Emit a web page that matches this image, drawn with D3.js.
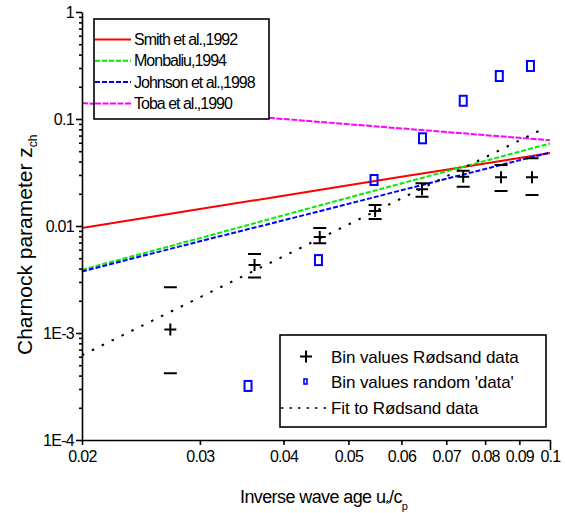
<!DOCTYPE html>
<html lang='en'>
<head>
	<meta charset='UTF-8'>
	<title>Charnock parameter</title>
	<style>
		body { margin: 0; background: #fff; }
		svg { display: block; font-family: 'Liberation Sans', Arial, sans-serif; }
	</style>
</head>
<body>

<svg></svg>

<script src='https://d3js.org/d3.v7.min.js'></script>
<script>
// curves at these x values
const curveX = [0.02, 0.03, 0.04, 0.05, 0.06, 0.07, 0.08, 0.09, 0.1]
const smith = [0.0096, 0.0144, 0.0192, 0.024, 0.0288, 0.0336, 0.0384, 0.0432, 0.048]
const monbaliu = [0.0039, 0.0077, 0.0126, 0.0184, 0.025, 0.0324, 0.0406, 0.0495, 0.059]
const johnson = [0.00376, 0.0072, 0.0113, 0.0161, 0.0216, 0.0276, 0.0341, 0.0411, 0.0486]
const toba = [0.141, 0.1155, 0.1, 0.0894, 0.0816, 0.0756, 0.0707, 0.0667, 0.0632]

// bin values Rødsand data, with lower / upper marks
const binX = [0.0271, 0.0362, 0.0453, 0.0548, 0.0644, 0.0742, 0.0845, 0.094]
const binY = [0.00108, 0.00432, 0.0079, 0.0138, 0.022, 0.0289, 0.0285, 0.0285]
const binLo = [0.00042, 0.00331, 0.0069, 0.0116, 0.0188, 0.0233, 0.0212, 0.0195]
const binHi = [0.00267, 0.00547, 0.0096, 0.0157, 0.0251, 0.0329, 0.0372, 0.0429]

// bin values random 'data'
const randX = [0.0354, 0.0451, 0.0546, 0.0645, 0.0742, 0.084, 0.0935]
const randY = [0.00032, 0.0048, 0.0269, 0.066, 0.148, 0.252, 0.313]

// fit to Rødsand data
const fitX = [0.02, 0.0976]
const fitY = [0.00062, 0.0807]

const xTicks = [0.02, 0.03, 0.04, 0.05, 0.06, 0.07, 0.08, 0.09, 0.1]
const xTickLabels = ['0.02', '0.03', '0.04', '0.05', '0.06', '0.07', '0.08', '0.09', '0.1']
const yTicks = [1e-4, 1e-3, 0.01, 0.1, 1]
const yTickLabels = ['1E-4', '1E-3', '0.01', '0.1', '1']

const width = 565
const height = 513

const svg = d3.select('svg')
	.attr('width', width)
	.attr('height', height)

const x = d3.scaleLog().domain([0.02, 0.1]).range([82, 550])
const y = d3.scaleLog().domain([1e-4, 1]).range([440, 12])

const series = [
	{ name: 'Smith et al.,1992', values: smith, color: '#ff0000', dash: null },
	{ name: 'Monbaliu,1994', values: monbaliu, color: '#00ee00', dash: '5,2' },
	{ name: 'Johnson et al.,1998', values: johnson, color: '#0000ff', dash: '5,2' },
	{ name: 'Toba et al.,1990', values: toba, color: '#ff00ff', dash: '6,1.5' }
]

const line = d3.line()
	.x(d => x(d[0]))
	.y(d => y(d[1]))

// curves
svg.append('g').selectAll('path')
	.data(series)
	.enter().append('path')
	.attr('fill', 'none')
	.attr('stroke', d => d.color)
	.attr('stroke-width', 2)
	.attr('stroke-dasharray', d => d.dash)
	.attr('d', d => line(curveX.map((v, i) => [v, d.values[i]])))

// fit line
svg.append('path')
	.attr('fill', 'none')
	.attr('stroke', '#000')
	.attr('stroke-width', 2)
	.attr('stroke-dasharray', '2.5,8.5')
	.attr('d', line(fitX.map((v, i) => [v, fitY[i]])))

// random squares
svg.append('g').selectAll('rect')
	.data(randX)
	.enter().append('rect')
	.attr('x', d => x(d) - 3.5)
	.attr('y', (d, i) => y(randY[i]) - 5)
	.attr('width', 7)
	.attr('height', 10)
	.attr('fill', 'none')
	.attr('stroke', '#0000ff')
	.attr('stroke-width', 2)

// bins: plus and the two bars
const bins = svg.append('g')
	.attr('stroke', '#000')
	.attr('stroke-width', 2)
	.attr('fill', 'none')
bins.selectAll('path.plus')
	.data(binX)
	.enter().append('path')
	.attr('class', 'plus')
	.attr('d', (d, i) => `M${x(d) - 6},${y(binY[i])}h12M${x(d)},${y(binY[i]) - 6}v12`)
bins.selectAll('path.bar')
	.data(binX)
	.enter().append('path')
	.attr('class', 'bar')
	.attr('d', (d, i) => `M${x(d) - 6.5},${y(binLo[i])}h13M${x(d) - 6.5},${y(binHi[i])}h13`)

// axes
const yMinor = []
for (let e = -4; e < 0; e++)
	for (let k = 2; k <= 9; k++) yMinor.push(k * Math.pow(10, e))

const yAxis = svg.append('g')
	.attr('transform', 'translate(82,0)')
	.call(d3.axisLeft(y).tickValues(yTicks).tickSize(6).tickSizeOuter(0)
		.tickFormat((d, i) => yTickLabels[i]))
svg.append('g')
	.attr('transform', 'translate(82,0)')
	.call(d3.axisLeft(y).tickValues(yMinor).tickSize(3).tickSizeOuter(0).tickFormat(''))
	.call(g => g.select('.domain').remove())

const xAxis = svg.append('g')
	.attr('transform', 'translate(0,440)')
	.call(d3.axisBottom(x).tickValues(xTicks).tickSize(5).tickSizeOuter(0)
		.tickFormat((d, i) => xTickLabels[i]))
xAxis.selectAll('.tick line').filter(d => d === 0.1).attr('y2', 10)

svg.selectAll('.domain, .tick line')
	.attr('stroke', '#000')
	.attr('stroke-width', 1.6)
svg.selectAll('.tick text')
	.attr('font-family', "'Liberation Sans', Arial, sans-serif")
	.attr('font-size', 16)
	.attr('letter-spacing', -0.7)
	.attr('fill', '#000')
yAxis.selectAll('.tick text').attr('x', -8)
xAxis.selectAll('.tick text').attr('y', 11)

// axis titles
const xTitle = svg.append('text')
	.attr('x', 240)
	.attr('y', 503)
	.attr('font-size', 18)
	.attr('letter-spacing', -0.6)
xTitle.append('tspan').text('Inverse wave age u')
xTitle.append('tspan').attr('font-size', 11).attr('dy', 5).text('*')
xTitle.append('tspan').attr('dy', -5).text('/c')
xTitle.append('tspan').attr('font-size', 11).attr('dy', 7).text('p')

const yTitle = svg.append('text')
	.attr('transform', 'translate(32,355) rotate(-90)')
	.attr('font-size', 21)
yTitle.append('tspan').text('Charnock parameter z')
yTitle.append('tspan').attr('font-size', 12).attr('dy', 5).text('ch')

// legend of the curves
const leg1 = svg.append('g')
leg1.append('rect')
	.attr('x', 94).attr('y', 19)
	.attr('width', 175).attr('height', 100)
	.attr('fill', '#fff')
	.attr('stroke', '#000')
	.attr('stroke-width', 1.6)
const row1 = leg1.selectAll('g.row')
	.data(series)
	.enter().append('g')
	.attr('transform', (d, i) => `translate(0,${39.5 + i * 21.3})`)
row1.append('line')
	.attr('x1', 95).attr('x2', 131)
	.attr('stroke', d => d.color)
	.attr('stroke-width', 2)
	.attr('stroke-dasharray', d => d.dash)
row1.append('text')
	.attr('x', 134).attr('y', 5.5)
	.attr('font-size', 16)
	.attr('letter-spacing', -1)
	.text(d => d.name)

// legend of the data
const leg2 = svg.append('g')
leg2.append('rect')
	.attr('x', 280).attr('y', 335)
	.attr('width', 266).attr('height', 92)
	.attr('fill', '#fff')
	.attr('stroke', '#000')
	.attr('stroke-width', 1.6)
leg2.append('path')
	.attr('d', 'M300,356.5h12M306,350.5v12')
	.attr('stroke', '#000').attr('stroke-width', 2)
leg2.append('rect')
	.attr('x', 304).attr('y', 379)
	.attr('width', 3).attr('height', 5)
	.attr('fill', 'none')
	.attr('stroke', '#0000ff').attr('stroke-width', 1.6)
leg2.append('line')
	.attr('x1', 281).attr('x2', 328)
	.attr('y1', 408).attr('y2', 408)
	.attr('stroke', '#000').attr('stroke-width', 1.6)
	.attr('stroke-dasharray', '2.5,6')
leg2.selectAll('text')
	.data(['Bin values Rødsand data', "Bin values random 'data'", 'Fit to Rødsand data'])
	.enter().append('text')
	.attr('x', 331)
	.attr('y', (d, i) => [362.5, 387.5, 414][i])
	.attr('font-size', 17)
	.attr('letter-spacing', -0.1)
	.text(d => d)
</script>
</body>
</html>
